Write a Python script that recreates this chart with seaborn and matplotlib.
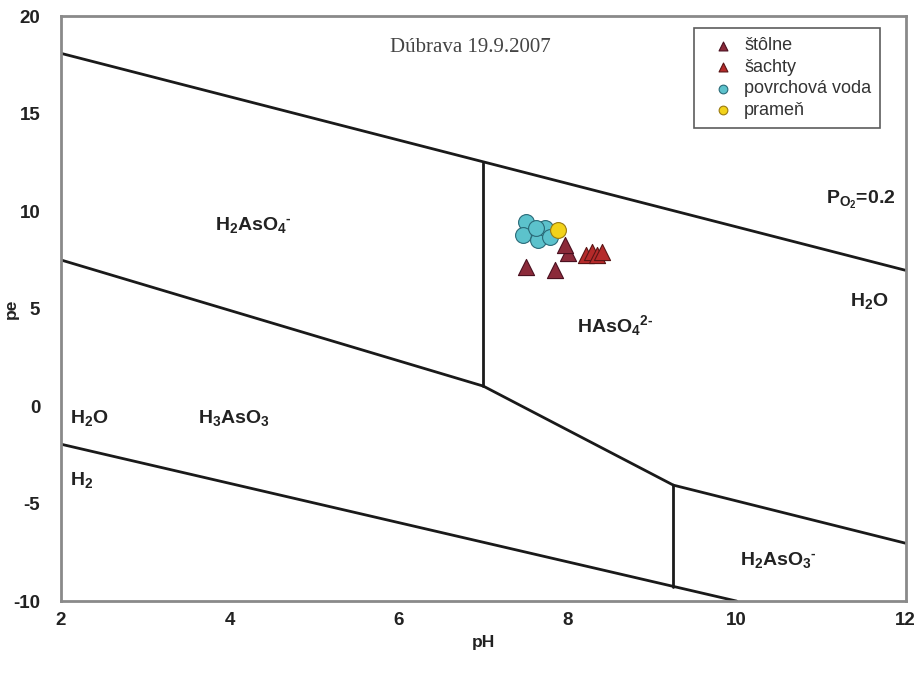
import matplotlib
matplotlib.use("Agg")
import matplotlib.pyplot as plt
import seaborn as sns
import pandas as pd

# ---- data ----
stolne_ph = [7.50, 7.85, 8.00, 7.97]
stolne_pe = [7.13, 6.97, 7.85, 8.26]
sachty_ph = [8.21, 8.29, 8.35, 8.41]
sachty_pe = [7.74, 7.90, 7.74, 7.90]
povrch_ph = [7.50, 7.47, 7.65, 7.73, 7.79, 7.62]
povrch_pe = [9.44, 8.77, 8.51, 9.13, 8.67, 9.13]
pramen_ph = [7.89]
pramen_pe = [9.03]

series_names = ["štôlne", "šachty", "povrchová voda", "prameň"]

# boundary lines (pH, pe)
upper_water_ph = [2, 12]
upper_water_pe = [18.1, 6.97]
lower_water_ph = [2, 10]
lower_water_pe = [-1.95, -10]
h2aso4_h3aso3_ph = [2, 7]
h2aso4_h3aso3_pe = [7.5, 1.03]
v1_ph = [7, 7]
v1_pe = [1.03, 12.5]
haso4_h3aso3_ph = [7, 9.25]
haso4_h3aso3_pe = [1.03, -4.05]
v2_ph = [9.25, 9.25]
v2_pe = [-4.05, -9.25]
haso4_h2aso3_ph = [9.25, 12]
haso4_h2aso3_pe = [-4.05, -7.03]

sns.set_theme(style="white")
plt.rcParams["font.family"] = ["Liberation Sans", "DejaVu Sans"]
plt.rcParams["mathtext.fontset"] = "custom"
plt.rcParams["mathtext.rm"] = "Liberation Sans:bold"
plt.rcParams["mathtext.it"] = "Liberation Sans:bold"
plt.rcParams["mathtext.bf"] = "Liberation Sans:bold"
plt.rcParams["axes.unicode_minus"] = False

fig = plt.figure(figsize=(9.18, 6.8), dpi=100)
ax = fig.add_axes([0.0665, 0.116, 0.92, 0.86])

lines = [
    (upper_water_ph, upper_water_pe), (lower_water_ph, lower_water_pe),
    (h2aso4_h3aso3_ph, h2aso4_h3aso3_pe), (v1_ph, v1_pe),
    (haso4_h3aso3_ph, haso4_h3aso3_pe), (v2_ph, v2_pe),
    (haso4_h2aso3_ph, haso4_h2aso3_pe),
]
for xs, ys in lines:
    sns.lineplot(x=xs, y=ys, ax=ax, color="#1a1a1a", lw=2.0, sort=False,
                 estimator=None)

def frame(xs, ys, name):
    return pd.DataFrame({"pH": xs, "pe": ys, "serie": name})

styles = [
    (frame(stolne_ph, stolne_pe, series_names[0]), "^", "#8b2a3a", "#4a1020", 135),
    (frame(sachty_ph, sachty_pe, series_names[1]), "^", "#b52a2a", "#5a1515", 135),
    (frame(povrch_ph, povrch_pe, series_names[2]), "o", "#5cc2cc", "#2a6a78", 130),
    (frame(pramen_ph, pramen_pe, series_names[3]), "o", "#f2d21a", "#9a7a10", 130),
]
for df, mk, fc, ec, s in styles:
    sns.scatterplot(data=df, x="pH", y="pe", ax=ax, marker=mk, color=fc,
                    edgecolor=ec, linewidth=0.8, s=s, label=df["serie"].iloc[0],
                    zorder=3)

ax.set_xlim(2, 12)
ax.set_ylim(-10, 20)
ax.set_xticks([2, 4, 6, 8, 10, 12])
ax.set_yticks([-10, -5, 0, 5, 10, 15, 20])
ax.tick_params(direction="in", length=4, width=1, color="#888888",
               labelsize=13.5, labelcolor="#222222")
ax.tick_params(axis="y", pad=15)
ax.tick_params(axis="x", pad=8)
for lab in ax.get_xticklabels() + ax.get_yticklabels():
    lab.set_fontweight("bold")
for sp in ax.spines.values():
    sp.set_color("#8a8a8a")
    sp.set_linewidth(2)

ax.set_xlabel("pH", fontsize=12.5, fontweight="bold", color="#222222")
ax.xaxis.set_label_coords(0.5, -0.058)
ax.set_ylabel("pe", fontsize=12.5, fontweight="bold", color="#222222")
ax.yaxis.set_label_coords(-0.05, 0.5)

tc = "#222222"
hy = "\u2010"
fs = 14
ax.text(6.85, 18.4, "Dúbrava 19.9.2007", family="Liberation Serif",
        fontsize=15, color="#444444", ha="center", va="center")
ax.text(4.28, 9.28, "H$_2$AsO$_4$$^{" + hy + "}$", fontsize=fs, fontweight="bold",
        color=tc, ha="center", va="center")
ax.text(8.56, 4.15, "HAsO$_4$$^{2" + hy + "}$", fontsize=fs, fontweight="bold",
        color=tc, ha="center", va="center")
ax.text(2.34, -0.6, r"H$_2$O", fontsize=fs, fontweight="bold", color=tc,
        ha="center", va="center")
ax.text(4.05, -0.6, r"H$_3$AsO$_3$", fontsize=fs, fontweight="bold", color=tc,
        ha="center", va="center")
ax.text(2.24, -3.8, r"H$_2$", fontsize=fs, fontweight="bold", color=tc,
        ha="center", va="center")
ax.text(10.49, -7.9, "H$_2$AsO$_3$$^{" + hy + "}$", fontsize=fs, fontweight="bold",
        color=tc, ha="center", va="center")
ax.text(11.47, 10.6, r"P$_{O_2}$=0.2", fontsize=fs, fontweight="bold", color=tc,
        ha="center", va="center")
ax.text(11.57, 5.4, r"H$_2$O", fontsize=fs, fontweight="bold", color=tc,
        ha="center", va="center")

leg = ax.legend(loc="upper left", bbox_to_anchor=(0.75, 0.9795), frameon=True,
                fancybox=False, edgecolor="#333333", fontsize=13,
                handletextpad=0.05, borderpad=0.5, labelspacing=0.25,
                markerscale=0.55, handlelength=2.2, borderaxespad=0.0)
leg.get_frame().set_linewidth(1.2)
for t in leg.get_texts():
    t.set_color("#333333")

fig.savefig("out.png", dpi=100)
